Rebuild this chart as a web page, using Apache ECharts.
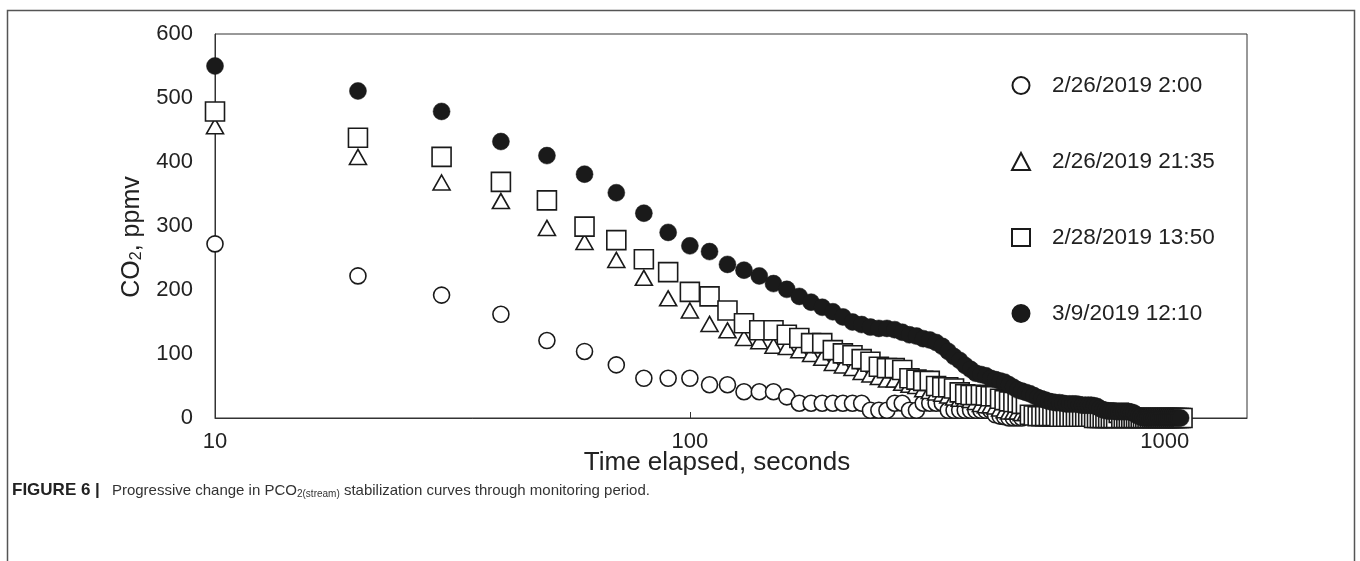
<!DOCTYPE html>
<html><head><meta charset="utf-8">
<script src="https://cdn.jsdelivr.net/npm/echarts@6/dist/echarts.min.js"></script>
<style>html,body{margin:0;padding:0;background:#fff}#c{width:1360px;height:561px}</style>
</head><body><div id="c"></div>
<script>
// Sampling times (seconds)
const times = [10,20,30,40,50,60,70,80,90,100,110,120,130,140,150,160,170,180,190,200,
210,220,230,240,250,260,270,280,290,300,310,320,330,340,350,360,370,380,390,400,
410,420,430,440,450,460,470,480,490,500,510,520,530,540,550,560,570,580,590,600,
610,620,630,640,650,660,670,680,690,700,710,720,730,740,750,760,770,780,790,800,
810,820,830,840,850,860,870,880,890,900,910,920,930,940,950,960,970,980,990,1000,
1010,1020,1030,1040,1050,1060,1070,1080,1090];

const seriesNames = ['2/26/2019 2:00','2/26/2019 21:35','2/28/2019 13:50','3/9/2019 12:10'];

// CO2 (ppmv) per series
const co2_0226_0200 = [272,222,192,162,121,104,83,62,62,62,
52,52,41,41,41,33,23,23,23,23,
23,23,23,12,12,12,23,23,12,12,
23,23,23,23,12,12,12,12,12,12,
12,12,12,5,3,2,0,0,0,0];

const co2_0226_2135 = [456,408,368,339,297,275,247,219,187,168,
147,137,125,120,113,111,106,100,94,86,
82,78,72,68,64,60,60,55,52,50,
45,42,40,38,35,32,30,30,28,25,
22,20,20,18,15,12,10,10,10,8,
8,5,5,5,3,3,2,2,2,2,
2,1,1,0,0,0,0,0,0,0,
0,0,0,0,0,0,0,0,0,0];

const co2_0228_1350 = [479,438,408,369,340,299,278,248,228,197,
190,168,148,137,137,130,125,117,117,106,
101,98,92,88,80,78,78,75,62,60,
58,58,50,48,48,46,40,37,36,36,
36,35,34,34,30,28,26,25,24,22,
22,5,4,3,3,3,3,3,3,2,
2,2,2,2,2,2,2,2,2,2,
0,0,0,0,0,0,0,0,0,8,
0,0,0,0,0,0,0,0,0,0,
0,0,0,0,0,0,0,0,0,0,
0,0,0,0,0,0,0,0,0];

const co2_0309_1210 = [550,511,479,432,410,381,352,320,290,269,
260,240,231,222,210,201,190,181,173,166,
158,150,146,142,140,140,138,134,130,128,
124,122,118,112,104,96,90,82,76,70,
68,66,62,60,58,56,52,48,44,42,
40,38,35,32,30,28,26,25,24,24,
23,22,22,22,22,21,20,20,20,20,
19,18,15,13,12,11,11,11,10,10,
10,10,10,10,9,8,5,3,2,0,
0,0,0,0,0,0,0,0,0,0,
0,0,0,0,0,0,0,0];

const xTickLabels = [10, 100, 1000];

const FONT = '"Liberation Sans", Arial, Helvetica, sans-serif';
const INK = '#1a1a1a';

function pairs(vals) { return vals.map((v, i) => [times[i], v]); }

const chart = echarts.init(document.getElementById('c'), null, {renderer: 'canvas'});

const openStyle = {color: '#ffffff', borderColor: INK, borderWidth: 1.6, opacity: 1};

chart.setOption({
  animation: false,
  backgroundColor: '#ffffff',
  textStyle: {fontFamily: FONT},
  title: {
    left: 7, top: 477,
    text: '{b|FIGURE 6 |}{r|Progressive change in PCO}{s|2(stream)}{r| stabilization curves through monitoring period.}',
    textStyle: {
      fontWeight: 'normal',
      rich: {
        b: {fontFamily: FONT, fontSize: 17, fontWeight: 'bold', color: '#222', padding: [0, 12, 0, 0]},
        r: {fontFamily: FONT, fontSize: 15, fontWeight: 'normal', color: '#333'},
        s: {fontFamily: FONT, fontSize: 10, fontWeight: 'normal', color: '#333', padding: [7, 0, 0, 0]}
      }
    }
  },
  graphic: [{
    type: 'rect', silent: true, z: -1,
    shape: {x: 7.5, y: 10.5, width: 1347, height: 620},
    style: {fill: 'none', stroke: '#555', lineWidth: 1.5}
  }],
  grid: {left: 215, right: 113, top: 34, bottom: 143, show: true, borderColor: '#333', borderWidth: 1, backgroundColor: 'transparent'},
  legend: {
    orient: 'vertical', left: 1006, top: 69,
    itemWidth: 18, itemHeight: 17, itemGap: 53,
    selectedMode: false,
    textStyle: {fontFamily: FONT, fontSize: 22.5, color: '#222', lineHeight: 22, padding: [0, 0, 0, 17]},
    data: seriesNames
  },
  xAxis: {
    type: 'log', logBase: 10, min: 10, max: 1490,
    axisLine: {lineStyle: {color: '#333', width: 1}},
    axisTick: {show: true, inside: true, length: 6, lineStyle: {color: '#333'}},
    minorTick: {show: false},
    splitLine: {show: false},
    axisLabel: {
      fontFamily: FONT, fontSize: 22, color: '#222', margin: 13,
      showMaxLabel: false,
      formatter: v => xTickLabels.includes(Math.round(v)) ? String(Math.round(v)) : ''
    },
    name: 'Time elapsed, seconds', nameLocation: 'middle', nameGap: 32,
    nameMoveOverlap: false,
    nameTextStyle: {fontFamily: FONT, fontSize: 26, color: '#222', padding: [0, 28, 0, 0]}
  },
  yAxis: {
    type: 'value', min: 0, max: 600, interval: 100,
    axisLine: {show: true, lineStyle: {color: '#333', width: 1}},
    axisTick: {show: false},
    splitLine: {show: false},
    axisLabel: {fontFamily: FONT, fontSize: 22, color: '#222', margin: 22},
    name: '{a|CO}{s|2}{a|, ppmv}', nameLocation: 'middle', nameGap: 70,
    nameMoveOverlap: false,
    nameTextStyle: {
      padding: [0, 22, 0, 0],
      rich: {
        a: {fontFamily: FONT, fontSize: 25, color: '#222'},
        s: {fontFamily: FONT, fontSize: 16, color: '#222', padding: [10, 0, 0, 0]}
      }
    }
  },
  series: [
    {name: seriesNames[0], type: 'scatter', symbol: 'circle', symbolSize: 16,
     itemStyle: openStyle, data: pairs(co2_0226_0200), z: 2},
    {name: seriesNames[1], type: 'scatter', symbol: 'triangle', symbolSize: [17, 15],
     itemStyle: openStyle, data: pairs(co2_0226_2135), z: 3},
    {name: seriesNames[2], type: 'scatter', symbol: 'rect', symbolSize: 19,
     itemStyle: openStyle, data: pairs(co2_0228_1350), z: 4},
    {name: seriesNames[3], type: 'scatter', symbol: 'circle', symbolSize: 17,
     itemStyle: {color: INK, borderColor: INK, borderWidth: 0.5, opacity: 1}, data: pairs(co2_0309_1210), z: 5}
  ]
});
</script>
</body></html>
